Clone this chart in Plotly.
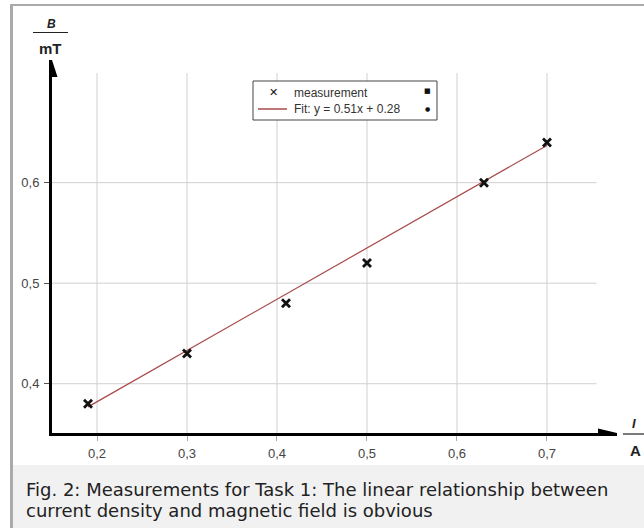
import plotly.graph_objects as go

# ---- data ----
meas_x = [0.19, 0.30, 0.41, 0.50, 0.63, 0.70]
meas_y = [0.38, 0.43, 0.48, 0.52, 0.60, 0.64]
fit_x = [0.19, 0.70]
fit_y = [0.377, 0.637]
x_ticks = [0.2, 0.3, 0.4, 0.5, 0.6, 0.7]
x_ticklabels = ["0,2", "0,3", "0,4", "0,5", "0,6", "0,7"]
y_ticks = [0.4, 0.5, 0.6]
y_ticklabels = ["0,4", "0,5", "0,6"]
legend_meas = "measurement"
legend_fit = "Fit: y = 0.51x + 0.28"
caption_lines = ["Fig. 2: Measurements for Task 1: The linear relationship between",
                 "current density and magnetic field is obvious"]

# ---- layout geometry (pixels) ----
W, H = 644, 528
L, R, T, B = 52, 617, 60, 433
PW, PH = R - L, B - T
XR = [0.15, 0.7778]
YR = [0.351, 0.722]
GRID_TOP = 0.709
GRID_RIGHT = 0.755


def px(x):
    return (x - L) / PW


def py(y):
    return (B - y) / PH


fig = go.Figure()

fig.add_trace(go.Scatter(
    x=fit_x, y=fit_y, mode="lines",
    line=dict(color="#a84848", width=1.2),
    hoverinfo="skip", showlegend=False))
fig.add_trace(go.Scatter(
    x=meas_x, y=meas_y, mode="markers",
    marker=dict(symbol="x-thin", size=8, line=dict(color="#111111", width=2.8)),
    showlegend=False))

shapes = []
# frame + caption background
shapes.append(dict(type="rect", xref="paper", yref="paper",
                   x0=px(13), x1=px(W + 2), y0=py(465), y1=py(H + 2),
                   fillcolor="#f1f1f1", line=dict(width=0), layer="below"))
shapes.append(dict(type="line", xref="paper", yref="paper",
                   x0=px(10), x1=px(W + 2), y0=py(5), y1=py(5),
                   line=dict(color="#aaaaaa", width=2)))
shapes.append(dict(type="line", xref="paper", yref="paper",
                   x0=px(11.5), x1=px(11.5), y0=py(4), y1=py(H + 2),
                   line=dict(color="#aaaaaa", width=3)))
# grid lines
for xv in x_ticks:
    shapes.append(dict(type="line", xref="x", yref="y", x0=xv, x1=xv,
                       y0=YR[0], y1=GRID_TOP,
                       line=dict(color="#d0d0d0", width=1), layer="below"))
for yv in y_ticks:
    shapes.append(dict(type="line", xref="x", yref="y", x0=XR[0], x1=GRID_RIGHT,
                       y0=yv, y1=yv,
                       line=dict(color="#d0d0d0", width=1), layer="below"))
# arrow heads
dx = 5.5 * (XR[1] - XR[0]) / PW
dy = 17 * (YR[1] - YR[0]) / PH
shapes.append(dict(type="path", xref="x", yref="y",
                   path=f"M {XR[0]} {YR[1]} L {XR[0] - dx} {YR[1] - dy} "
                        f"L {XR[0] + dx} {YR[1] - dy} Z",
                   fillcolor="black", line=dict(width=0)))
ddx = 19 * (XR[1] - XR[0]) / PW
ddy = 4.5 * (YR[1] - YR[0]) / PH
shapes.append(dict(type="path", xref="x", yref="y",
                   path=f"M {XR[1]} {YR[0]} L {XR[1] - ddx} {YR[0] + ddy} "
                        f"L {XR[1] - ddx} {YR[0] - ddy} Z",
                   fillcolor="black", line=dict(width=0)))
# axis label fraction bars
shapes.append(dict(type="line", xref="paper", yref="paper",
                   x0=px(33), x1=px(68), y0=py(32.5), y1=py(32.5),
                   line=dict(color="#222222", width=1.2)))
shapes.append(dict(type="line", xref="paper", yref="paper",
                   x0=px(623), x1=px(646), y0=py(434), y1=py(434),
                   line=dict(color="#222222", width=1.2)))
# legend box
shapes.append(dict(type="rect", xref="paper", yref="paper",
                   x0=px(253), x1=px(437), y0=py(81), y1=py(120),
                   fillcolor="white", line=dict(color="#444444", width=1)))
shapes.append(dict(type="line", xref="paper", yref="paper",
                   x0=px(258), x1=px(287), y0=py(109), y1=py(109),
                   line=dict(color="#a84848", width=1.5)))

ann = []


def txt(x, y, text, font, xanchor="center"):
    ann.append(dict(xref="paper", yref="paper", x=px(x), y=py(y), text=text,
                    xanchor=xanchor, yanchor="middle", align="left",
                    showarrow=False, font=font))


lf = dict(family="Liberation Sans, Arial, sans-serif", size=12, color="#333333")
txt(273, 93, "<b>✕</b>", dict(family="DejaVu Sans", size=11, color="#111111"))
txt(292, 93, legend_meas, lf, "left")
txt(292, 109, legend_fit, lf, "left")
txt(427, 91, "■", dict(family="DejaVu Sans", size=7, color="#111111"))
txt(427, 108, "●", dict(family="DejaVu Sans", size=6, color="#111111"))
# axis titles
tf = "Liberation Sans, Arial, sans-serif"
txt(51, 24, "<b><i>B</i></b>", dict(family=tf, size=12, color="#222222"))
txt(50, 49, "<b>mT</b>", dict(family=tf, size=15, color="#222222"))
txt(634, 423, "<b><i>I</i></b>", dict(family=tf, size=13, color="#222222"))
txt(635, 450, "<b>A</b>", dict(family=tf, size=15, color="#222222"))
# caption
cf = dict(family="DejaVu Sans", size=18, color="#222222")
txt(24, 490, caption_lines[0], cf, "left")
txt(24, 511, caption_lines[1], cf, "left")

tickfont = dict(family="Liberation Sans, Arial, sans-serif", size=13, color="#444444")
fig.update_layout(
    width=W, height=H,
    margin=dict(l=L, r=W - R, t=T, b=H - B, pad=0),
    paper_bgcolor="white", plot_bgcolor="white",
    showlegend=False,
    shapes=shapes, annotations=ann,
    xaxis=dict(range=XR, showgrid=False, zeroline=False,
               tickmode="array", tickvals=x_ticks, ticktext=x_ticklabels,
               ticks="outside", ticklen=5, tickcolor="#aaaaaa", tickwidth=1,
               ticklabelstandoff=1,
               showline=True, linecolor="black", linewidth=3,
               tickfont=tickfont, fixedrange=True),
    yaxis=dict(range=YR, showgrid=False, zeroline=False,
               tickmode="array", tickvals=y_ticks, ticktext=y_ticklabels,
               ticks="outside", ticklen=5, tickcolor="#555555", tickwidth=1,
               ticklabelstandoff=2,
               showline=True, linecolor="black", linewidth=3,
               tickfont=tickfont, fixedrange=True),
)

fig.write_html("out.html", config={"displayModeBar": False},
               post_script="document.body.style.margin='0';"
                           "document.body.style.overflow='hidden';")
